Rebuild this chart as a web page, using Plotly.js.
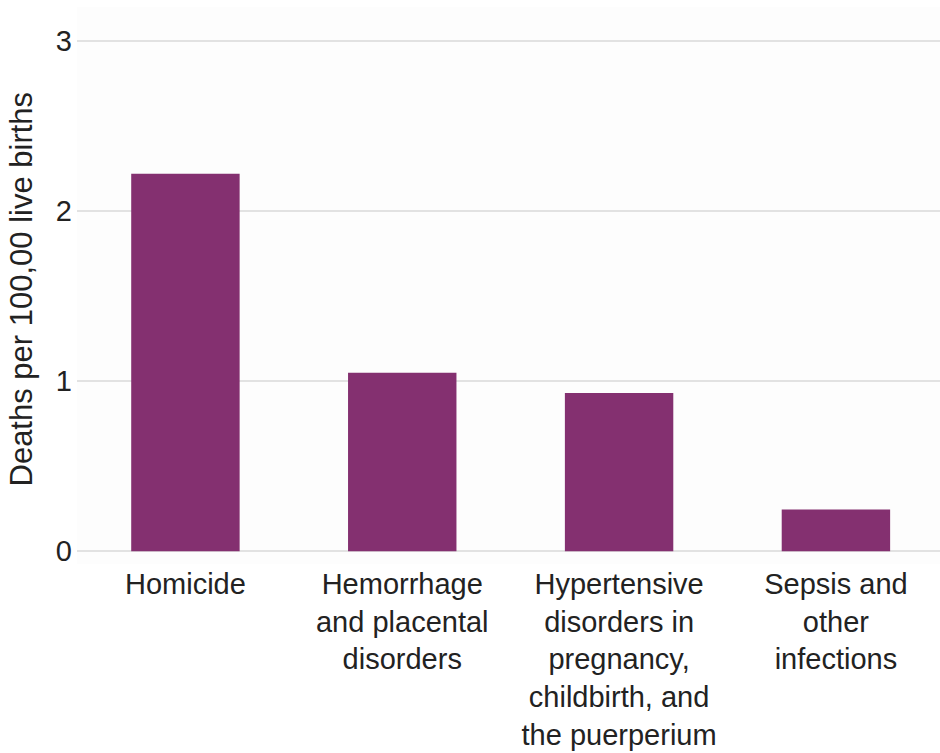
<!DOCTYPE html>
<html>
<head>
<meta charset="utf-8">
<script src="https://cdn.plot.ly/plotly-3.0.1.min.js"></script>
<style>html,body{margin:0;padding:0;background:#fff;}#chart{width:940px;height:753px;}</style>
</head>
<body>
<div id="chart"></div>
<script>
const categories = [
  "Homicide",
  "Hemorrhage<br>and placental<br>disorders",
  "Hypertensive<br>disorders in<br>pregnancy,<br>childbirth, and<br>the puerperium",
  "Sepsis and<br>other<br>infections"
];
const deathRates = [2.22, 1.05, 0.93, 0.245];
const yTickValues = [0, 1, 2, 3];
const yTickLabels = ["0", "1", "2", "3"];
const yAxisTitle = "Deaths per 100,00 live births";

const trace = {
  type: "bar",
  x: categories,
  y: deathRates,
  marker: {color: "#843070", line: {width: 0}},
  hoverinfo: "skip"
};

const layout = {
  width: 940,
  height: 753,
  margin: {l: 77, r: 0, t: 7, b: 189, pad: 0},
  paper_bgcolor: "#ffffff",
  plot_bgcolor: "#fdfdfd",
  bargap: 0.5,
  showlegend: false,
  font: {family: "Liberation Sans, Arial, sans-serif", size: 29, color: "#222222"},
  xaxis: {
    type: "category",
    range: [-0.5, 3.48],
    showgrid: false,
    zeroline: false,
    showline: false,
    ticks: "",
    tickfont: {size: 29, color: "#222222"},
    automargin: false
  },
  yaxis: {
    range: [-0.075, 3.2],
    tickvals: yTickValues,
    ticktext: yTickLabels,
    showgrid: true,
    gridcolor: "#e2e2e2",
    gridwidth: 2,
    zeroline: false,
    showline: false,
    ticks: "",
    ticklabelstandoff: 4,
    tickfont: {size: 29, color: "#222222"},
    automargin: false
  },
  annotations: [{
    text: yAxisTitle,
    xref: "paper", yref: "paper",
    x: 0, y: 0.5,
    xanchor: "center", yanchor: "middle",
    xshift: -56, yshift: -4,
    textangle: -90,
    showarrow: false,
    font: {size: 31, color: "#222222"}
  }]
};

Plotly.newPlot("chart", [trace], layout, {displayModeBar: false, staticPlot: true});
</script>
</body>
</html>
